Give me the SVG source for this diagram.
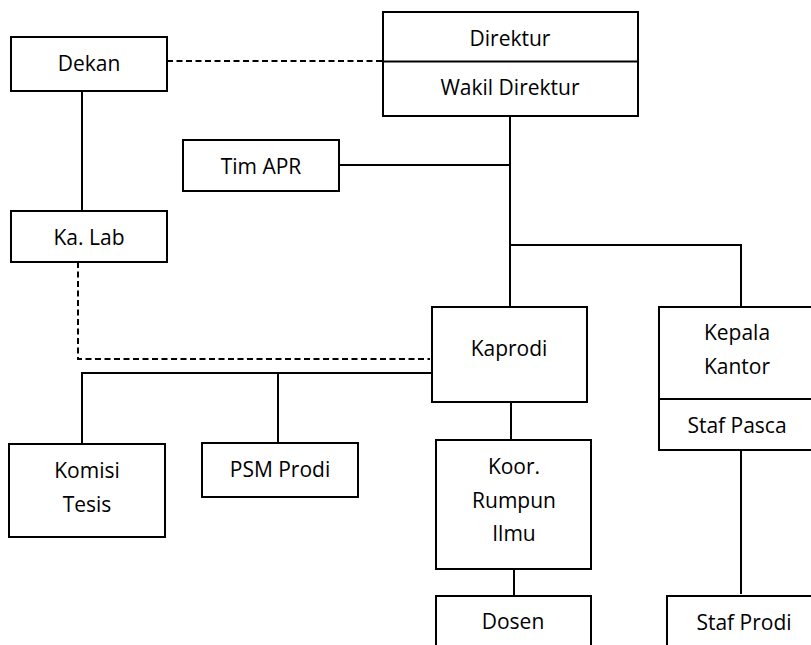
<svg xmlns="http://www.w3.org/2000/svg" width="811" height="645" viewBox="0 0 811 645">
<style>
.box{fill:#fff;stroke:#000;stroke-width:2}
.ln{fill:none;stroke:#000;stroke-width:2}
.dash{fill:none;stroke:#000;stroke-width:2;stroke-dasharray:6 3.5}
text{font-family:"Open Sans","Noto Sans","Liberation Sans",sans-serif;font-size:21px;fill:#000;text-anchor:middle}
</style>
<rect width="811" height="645" fill="#fff"/>
<g id="connectors">
<path class="dash" d="M167 61H383"/>
<path class="ln" d="M82 91V211"/>
<path class="ln" d="M510 116V307"/>
<path class="ln" d="M339 165H510"/>
<path class="ln" d="M510 245H741V307"/>
<path class="dash" d="M78 262V359H430"/>
<path class="ln" d="M432 373H82V444"/>
<path class="ln" d="M278 373V443"/>
<path class="ln" d="M511 402V440"/>
<path class="ln" d="M514 569V596"/>
<path class="ln" d="M741 450V594"/>
</g>
<g id="direktur">
<rect class="box" x="383" y="12" width="255" height="104"/>
<path class="ln" d="M383 61.5H638"/>
<text x="510" y="46">Direktur</text>
<text x="510" y="95">Wakil Direktur</text>
</g>
<g id="dekan">
<rect class="box" x="11" y="37" width="156" height="54"/>
<text x="89" y="71">Dekan</text>
</g>
<g id="tim-apr">
<rect class="box" x="183" y="140" width="156" height="51"/>
<text x="261" y="174">Tim APR</text>
</g>
<g id="ka-lab">
<rect class="box" x="11" y="211" width="156" height="51"/>
<text x="89" y="245">Ka. Lab</text>
</g>
<g id="kaprodi">
<rect class="box" x="432" y="307" width="155" height="95"/>
<text x="509" y="356">Kaprodi</text>
</g>
<g id="kepala-kantor">
<rect class="box" x="659" y="307" width="160" height="143"/>
<path class="ln" d="M659 399H819"/>
<text x="737" y="340">Kepala</text>
<text x="737" y="374">Kantor</text>
<text x="737" y="433">Staf Pasca</text>
</g>
<g id="komisi-tesis">
<rect class="box" x="9" y="444" width="156" height="93"/>
<text x="87" y="478">Komisi</text>
<text x="87" y="512">Tesis</text>
</g>
<g id="psm-prodi">
<rect class="box" x="202" y="443" width="156" height="54"/>
<text x="280" y="477">PSM Prodi</text>
</g>
<g id="koor-rumpun-ilmu">
<rect class="box" x="436" y="440" width="155" height="129"/>
<text x="514" y="474">Koor.</text>
<text x="514" y="508">Rumpun</text>
<text x="514" y="541">Ilmu</text>
</g>
<g id="dosen">
<rect class="box" x="436" y="596" width="155" height="60"/>
<text x="513" y="629">Dosen</text>
</g>
<g id="staf-prodi">
<rect class="box" x="667" y="596" width="155" height="60"/>
<text x="744" y="630">Staf Prodi</text>
</g>
</svg>
